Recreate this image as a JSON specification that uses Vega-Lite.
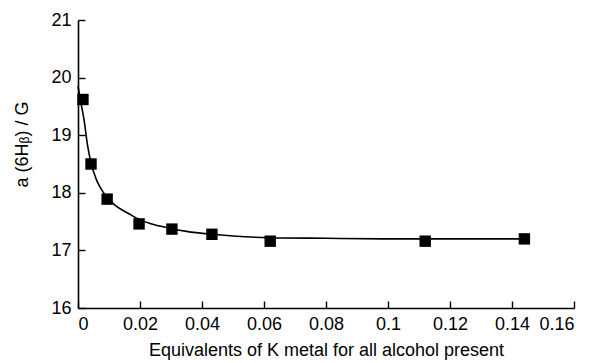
{
  "$schema": "https://vega.github.io/schema/vega-lite/v6.json",
  "width": 496,
  "height": 288,
  "autosize": "none",
  "padding": {"left": 78, "top": 20, "right": 22, "bottom": 55},
  "background": "white",
  "config": {
    "view": {"stroke": null},
    "font": "Liberation Sans",
    "axis": {
      "domainColor": "black",
      "domainWidth": 1.6,
      "tickColor": "black",
      "tickWidth": 1.4,
      "tickSize": -7,
      "labelPadding": 14,
      "labelFont": "Liberation Sans",
      "labelFontSize": 18,
      "labelColor": "black",
      "titleFont": "Liberation Sans",
      "titleFontSize": 18,
      "titleFontWeight": "normal",
      "titleColor": "black",
      "grid": false
    }
  },
  "datasets": {
    "points": [
      {"x": 0.0016, "y": 19.62},
      {"x": 0.0042, "y": 18.5},
      {"x": 0.0094, "y": 17.89},
      {"x": 0.0197, "y": 17.46},
      {"x": 0.0303, "y": 17.37},
      {"x": 0.0432, "y": 17.28},
      {"x": 0.062, "y": 17.16},
      {"x": 0.112, "y": 17.16},
      {"x": 0.144, "y": 17.2}
    ],
    "curve": [
      {"x": 0.0, "y": 19.85},
      {"x": 0.001, "y": 19.55},
      {"x": 0.002, "y": 19.25},
      {"x": 0.003, "y": 18.85},
      {"x": 0.0042, "y": 18.52},
      {"x": 0.006, "y": 18.22},
      {"x": 0.008, "y": 18.02},
      {"x": 0.0094, "y": 17.92},
      {"x": 0.012, "y": 17.78},
      {"x": 0.016, "y": 17.65},
      {"x": 0.02, "y": 17.53},
      {"x": 0.025, "y": 17.44},
      {"x": 0.03, "y": 17.38},
      {"x": 0.035, "y": 17.33},
      {"x": 0.043, "y": 17.28},
      {"x": 0.05, "y": 17.25},
      {"x": 0.062, "y": 17.22},
      {"x": 0.08, "y": 17.21},
      {"x": 0.1, "y": 17.2},
      {"x": 0.12, "y": 17.2},
      {"x": 0.144, "y": 17.2}
    ]
  },
  "layer": [
    {
      "data": {"name": "curve"},
      "mark": {"type": "line", "color": "black", "strokeWidth": 1.6, "interpolate": "monotone"},
      "encoding": {
        "x": {
          "field": "x", "type": "quantitative",
          "scale": {"domain": [0, 0.16], "nice": false, "zero": false},
          "axis": {
            "values": [0, 0.02, 0.04, 0.06, 0.08, 0.1, 0.12, 0.14, 0.16],
            "format": ".2~f",
            "title": "Equivalents of K metal for all alcohol present",
            "titlePadding": 8
          }
        },
        "y": {
          "field": "y", "type": "quantitative",
          "scale": {"domain": [16, 21], "nice": false, "zero": false},
          "axis": {
            "values": [16, 17, 18, 19, 20, 21],
            "format": "d",
            "title": "a (6Hᵦ) / G",
            "titlePadding": 19,
            "titleY": 124
          }
        }
      }
    },
    {
      "data": {"name": "points"},
      "mark": {"type": "square", "color": "black", "filled": true, "opacity": 1, "size": 130},
      "encoding": {
        "x": {"field": "x", "type": "quantitative"},
        "y": {"field": "y", "type": "quantitative"}
      }
    }
  ]
}
